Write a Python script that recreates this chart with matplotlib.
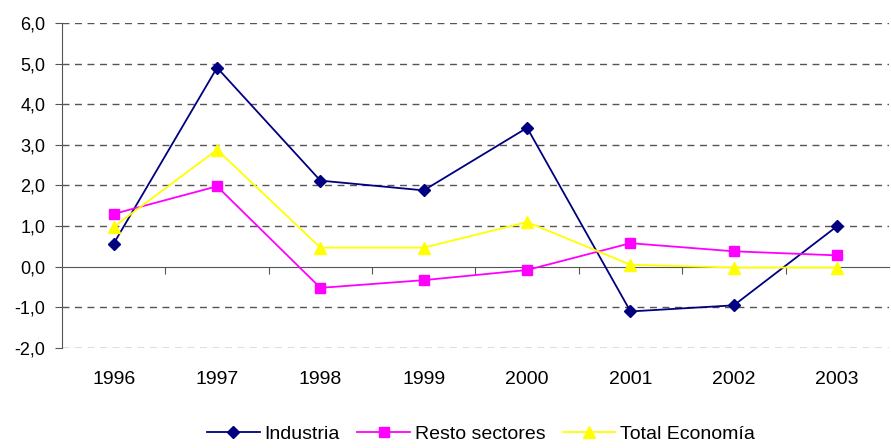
import matplotlib
matplotlib.use("Agg")
from matplotlib import pyplot as plt
import matplotlib.transforms as mtransforms

years = ['1996', '1997', '1998', '1999', '2000', '2001', '2002', '2003']
industria = [0.57, 4.9, 2.12, 1.88, 3.42, -1.1, -0.95, 1.0]
resto = [1.3, 1.98, -0.52, -0.33, -0.08, 0.58, 0.38, 0.28]
total = [0.98, 2.88, 0.47, 0.47, 1.1, 0.05, -0.02, -0.02]
yticks = [-2, -1, 0, 1, 2, 3, 4, 5, 6]

plt.rcParams['font.family'] = ['Liberation Sans', 'DejaVu Sans']

fig = plt.figure(figsize=(8.91, 4.48), dpi=100)
ax = fig.add_axes([0.0696, 0.2232, 0.928, 0.7255])

x = list(range(len(years)))

# lineas de rejilla discontinuas, menos el cero
for v in yticks:
    if v != 0:
        ax.axhline(v, color='#555555', lw=1.0, ls=(0, (5, 4)), zorder=1)

ax.plot(x, industria, color='#000080', lw=1.3, marker='D', ms=6.5, label='Industria', zorder=3)
ax.plot(x, resto, color='#FF00FF', lw=1.3, marker='s', ms=7, label='Resto sectores', zorder=3)
ax.plot(x, total, color='#FFFF00', lw=1.3, marker='^', ms=8.5, label='Total Economía', zorder=3)

ax.set_xlim(-0.5, len(years) - 0.5)
ax.set_ylim(-2, 6)

ax.spines['top'].set_visible(False)
ax.spines['right'].set_visible(False)
ax.spines['left'].set_color('#555555')
ax.spines['bottom'].set_position(('data', 0))
ax.spines['bottom'].set_color('#555555')
ax.spines['bottom'].set_zorder(2)

ax.set_yticks(yticks)
ax.set_yticklabels([('%.1f' % v).replace('.', ',') for v in yticks], fontsize=13)
ax.tick_params(axis='y', length=5, color='#555555', pad=7)

ax.set_xticks([i + 0.5 for i in range(len(years) - 1)])
ax.set_xticklabels([])
ax.tick_params(axis='x', length=5, direction='out', color='#555555')

trans = mtransforms.blended_transform_factory(ax.transData, ax.transAxes)
for i, yr in enumerate(years):
    ax.text(i, -0.07, yr, transform=trans, ha='center', va='top', fontsize=14)

fig.legend(loc='lower center', bbox_to_anchor=(0.54, -0.028), ncol=3, frameon=False,
           fontsize=14, handlelength=2.7, handletextpad=0.25, columnspacing=0.9)

fig.savefig('out.png', dpi=100)
